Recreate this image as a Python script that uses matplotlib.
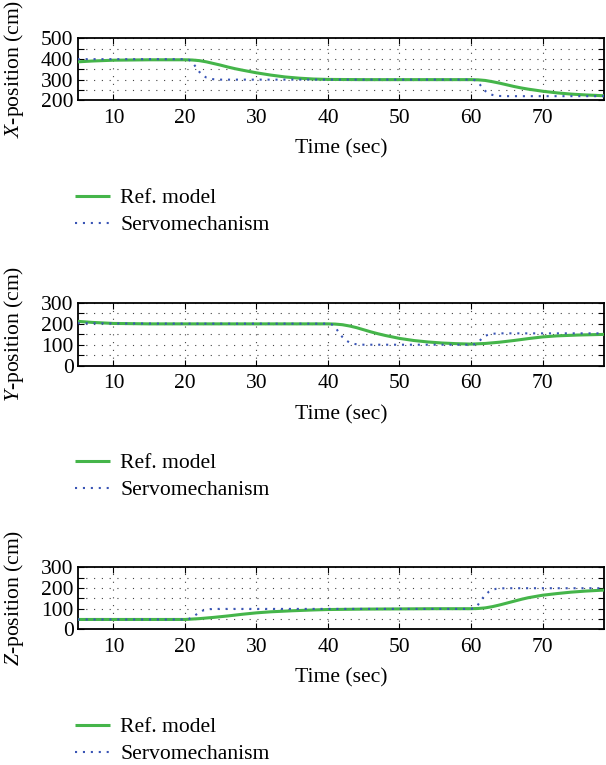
import matplotlib
matplotlib.use("Agg")
import matplotlib.pyplot as plt
from matplotlib.ticker import MultipleLocator, FuncFormatter

plt.rcParams['font.family'] = ['Liberation Serif', 'DejaVu Serif']
plt.rcParams['mathtext.fontset'] = 'custom'
plt.rcParams['mathtext.rm'] = 'Liberation Serif'
plt.rcParams['mathtext.it'] = 'Liberation Serif:italic'

# ---------------- data ----------------
x_ref_t = [5, 7, 10, 15, 20, 21, 22, 23, 24, 25, 26, 27, 28, 30, 32, 34, 36, 38, 40, 45, 50, 55, 60,
           61, 62, 63, 64, 65, 66, 67, 68, 70, 72, 74, 76, 78.6]
x_ref = [386, 390, 394, 396, 396, 395, 392, 386, 378, 370, 361, 353, 346, 333, 322, 313, 307, 303, 301,
         300, 300, 300, 300, 299, 296, 290, 283, 275, 267, 260, 254, 244, 236, 230, 226, 222]
x_servo_t = [5, 10, 15, 20, 20.5, 21, 21.5, 22, 22.5, 23, 23.5, 24, 25, 30, 40, 50, 60,
             60.5, 61, 61.5, 62, 62.5, 63, 63.5, 64, 65, 70, 78.6]
x_servo = [399, 399, 399, 399, 397, 385, 362, 338, 320, 310, 305, 302, 300, 300, 300, 300, 300,
           298, 287, 265, 245, 233, 226, 222, 221, 220, 220, 220]

y_ref_t = [5, 7, 10, 15, 20, 30, 40, 41, 42, 43, 44, 45, 46, 47, 48, 50, 52, 54, 56, 58, 60,
           62, 64, 66, 68, 70, 72, 75, 78.6]
y_ref = [212, 207, 202, 200, 200, 200, 200, 199, 196, 190, 182, 172, 162, 153, 145, 131, 121, 114,
         109, 106, 104, 107, 113, 121, 130, 138, 143, 147, 150]
y_servo_t = [5, 10, 20, 30, 40, 40.5, 41, 41.5, 42, 42.5, 43, 43.5, 44, 45, 50, 55, 60,
             60.5, 61, 61.5, 62, 62.5, 63, 64, 70, 78.6]
y_servo = [203, 202, 201, 201, 201, 198, 185, 160, 138, 122, 112, 106, 103, 101, 101, 101, 101,
           103, 112, 130, 143, 150, 153, 155, 155, 155]

z_ref_t = [5, 10, 15, 20, 22, 24, 26, 28, 30, 32, 35, 38, 40, 45, 50, 55, 60, 61, 62, 63, 64, 65,
           66, 67, 68, 70, 72, 74, 76, 78.6]
z_ref = [48, 48, 48, 48, 52, 58, 65, 73, 80, 85, 90, 94, 96, 98, 99, 100, 100, 101, 104, 110, 118,
         127, 136, 145, 153, 165, 173, 180, 185, 190]
z_servo_t = [5, 10, 20, 20.5, 21, 21.5, 22, 22.5, 23, 23.5, 24, 30, 40, 50, 60,
             60.5, 61, 61.5, 62, 62.5, 63, 63.5, 64, 65, 70, 78.6]
z_servo = [48, 48, 48, 50, 58, 70, 82, 91, 96, 98, 99, 99, 99, 99, 99,
           103, 120, 145, 167, 182, 191, 196, 198, 199, 199, 199]

x_ticks = [10, 20, 30, 40, 50, 60, 70]
panels = [
    ("$X$-position (cm)", x_ref_t, x_ref, x_servo_t, x_servo, (200, 500)),
    ("$Y$-position (cm)", y_ref_t, y_ref, y_servo_t, y_servo, (0, 300)),
    ("$Z$-position (cm)", z_ref_t, z_ref, z_servo_t, z_servo, (0, 300)),
]
legend_labels = ["Ref. model", "Servomechanism"]
xlabel = "Time (sec)"

# ---------------- layout ----------------
W, H = 606, 765
fig = plt.figure(figsize=(W / 100, H / 100), dpi=100)

axes_px = [(38.3, 100.3), (302.8, 366.0), (567.3, 629.4)]  # top, bottom in pixels
legend_top_px = [188, 453, 717]
left_px, right_px = 77.7, 604

green = "#45b54a"
blue = "#3a55b5"
fs_tick = 15.5
fs = 15.6

for (ylab, rt, rv, st, sv, ylim), (top, bot), ltop in zip(panels, axes_px, legend_top_px):
    ax = fig.add_axes([left_px / W, 1 - bot / H, (right_px - left_px) / W, (bot - top) / H])
    l1, = ax.plot(rt, rv, color=green, lw=2.2, solid_capstyle='butt', zorder=3)
    l2, = ax.plot(st, sv, color=blue, lw=1.5, linestyle=(0, (1.0, 2.8)), zorder=4)
    ax.set_xlim(5, 78.6)
    ax.set_ylim(*ylim)
    ax.set_xticks(x_ticks)
    ax.yaxis.set_major_locator(MultipleLocator(50))
    ax.yaxis.set_major_formatter(FuncFormatter(lambda v, p: f"{int(round(v))}" if round(v) % 100 == 0 else ""))
    ax.grid(True, color="#444444", linestyle=(0, (1, 6)), linewidth=0.8)
    ax.tick_params(direction='in', top=True, right=True, length=4, width=0.8,
                   labelsize=fs_tick, pad=3, colors='black')
    ax.tick_params(axis='x', pad=6)
    for s in ax.spines.values():
        s.set_linewidth(1.3)
    ax.set_xlabel(xlabel, fontsize=fs, labelpad=8.5)
    ax.set_ylabel(ylab, fontsize=fs)
    ax.yaxis.set_label_coords((26 - left_px) / (right_px - left_px), 0.5)
    fig.legend([l1, l2], legend_labels, loc='upper left',
               bbox_to_anchor=(75 / W, 1 - ltop / H), frameon=False, fontsize=fs,
               handlelength=1.6, handletextpad=0.5, labelspacing=0.32,
               borderpad=0, borderaxespad=0)

fig.savefig("out.png", dpi=100)
